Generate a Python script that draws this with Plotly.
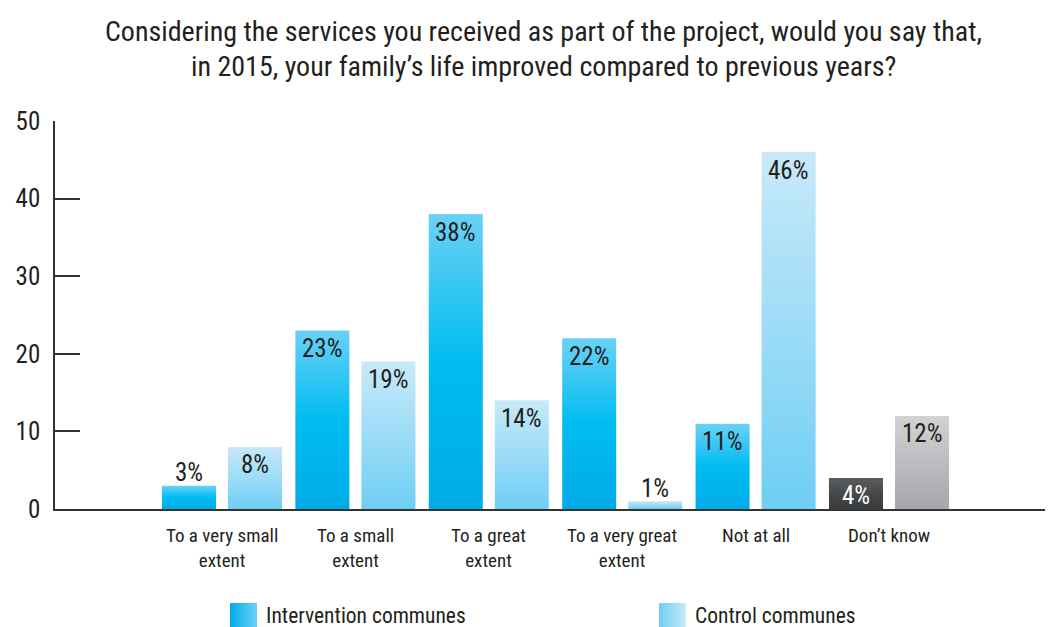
import plotly.graph_objects as go

# Survey answers (percent of households)
categories = ["To a very small<br>extent", "To a small<br>extent", "To a great<br>extent",
              "To a very great<br>extent", "Not at all", "Don’t know"]
intervention = [3, 23, 38, 22, 11, 4]
control = [8, 19, 14, 1, 46, 12]
series_names = ["Intervention communes", "Control communes"]
y_ticks = [0, 10, 20, 30, 40, 50]

title_lines = ["Considering the services you received as part of the project, would you say that,",
               "in 2015, your family’s life improved compared to previous years?"]

FONT = "'Roboto Condensed', 'Liberation Sans', sans-serif"
TXT = "#231f20"

# gradient stops: (bottom, middle, top)
BLUE = ["#00ace8", "#00bcf1", "#6ad2f6"]
LIGHT = ["#6ecef4", "#9cdcf7", "#c8e9f9"]
DARK = ["#393a3b", "#47484a", "#5b5c5e"]
GREY = ["#a6a7aa", "#bcbdc0", "#d2d3d5"]

BAR_W = 0.405      # bar width in group units
OFFSET = 0.2475    # half distance between the two bars of a group

W, H, LEFT, RIGHT, TOP, BASE = 1048, 627, 55, 1045, 121, 509
GROUP_PX = 133.4   # pixel spacing between category groups
FIRST_PX = 222     # pixel centre of the first group

fig = go.Figure()


def gradient(stops):
    return [[0, stops[0]], [0.5, stops[1]], [1, stops[2]]]


def add_bar(xc, value, stops):
    x0, x1 = xc - BAR_W / 2, xc + BAR_W / 2
    fig.add_trace(go.Scatter(
        x=[x0, x0, x1, x1, x0], y=[0, value, value, 0, 0],
        mode="none", fill="toself",
        fillgradient=dict(type="vertical", colorscale=gradient(stops)),
        showlegend=False, hoverinfo="skip", xaxis="x", yaxis="y"))


n = len(categories)
for i in range(n):
    last = i == n - 1
    for k, (vals, stops) in enumerate([(intervention, DARK if last else BLUE),
                                       (control, GREY if last else LIGHT)]):
        xc = i + (-OFFSET if k == 0 else OFFSET)
        v = vals[i]
        add_bar(xc, v, stops)
        inside = v >= 4
        color = "white" if (last and k == 0) else TXT
        fig.add_annotation(x=xc, y=v, xref="x", yref="y", text=f"{v}%",
                           showarrow=False, yanchor="middle",
                           yshift=-18 if inside else 13,
                           font=dict(family=FONT, size=25, color=color))
    fig.add_annotation(x=i, y=0, xref="x", yref="y", text=categories[i],
                       showarrow=False, yanchor="top", yshift=-13,
                       font=dict(family=FONT, size=19, color=TXT))

# custom legend drawn on a helper pair of axes under the plot
legend_x = [230, 659]
for name, stops, lx in zip(series_names, [BLUE, LIGHT], legend_x):
    fig.add_trace(go.Scatter(
        x=[lx, lx, lx + 27, lx + 27, lx], y=[603, 630, 630, 603, 603],
        mode="none", fill="toself",
        fillgradient=dict(type="horizontal", colorscale=[[0, stops[0]], [1, stops[2]]]),
        showlegend=False, hoverinfo="skip", xaxis="x2", yaxis="y2"))
    fig.add_annotation(x=lx + 34, y=615, xref="x2", yref="y2", text=name,
                       showarrow=False, xanchor="left", yanchor="middle",
                       font=dict(family=FONT, size=21.5, color=TXT))

# two-line title, centred above the plot
plot_h = H - TOP
for line, ypx in zip(title_lines, [32, 67]):
    fig.add_annotation(text=line, showarrow=False, xref="paper", yref="paper",
                       x=(543 - LEFT) / (RIGHT - LEFT), y=1 + (TOP - ypx) / plot_h,
                       xanchor="center", yanchor="middle",
                       font=dict(family=FONT, size=28, color=TXT))

ydom0 = (H - BASE) / plot_h
x_lo = -(FIRST_PX - LEFT) / GROUP_PX

fig.update_layout(
    width=W, height=H,
    margin=dict(l=LEFT, r=W - RIGHT, t=TOP, b=0, pad=0),
    paper_bgcolor="white", plot_bgcolor="white",
    showlegend=False,
    xaxis=dict(range=[x_lo, x_lo + (RIGHT - LEFT) / GROUP_PX], showgrid=False,
               zeroline=False, showticklabels=False, ticks="", showline=True,
               linecolor="#333333", linewidth=2, anchor="y", automargin=False),
    yaxis=dict(range=[0, 50], domain=[ydom0, 1], tickvals=y_ticks, showgrid=False,
               zeroline=False, showline=True, linecolor="#333333", linewidth=1.5,
               ticks="inside", ticklen=25, tickwidth=1.5, tickcolor="#333333",
               tickfont=dict(family=FONT, size=25, color=TXT), ticklabelstandoff=8,
               automargin=False),
    xaxis2=dict(domain=[0, 1], range=[LEFT, RIGHT], visible=False, anchor="y2",
                automargin=False),
    yaxis2=dict(domain=[0, ydom0], range=[H, BASE], visible=False, anchor="x2",
                automargin=False),
)

fig.write_html("out.html")
